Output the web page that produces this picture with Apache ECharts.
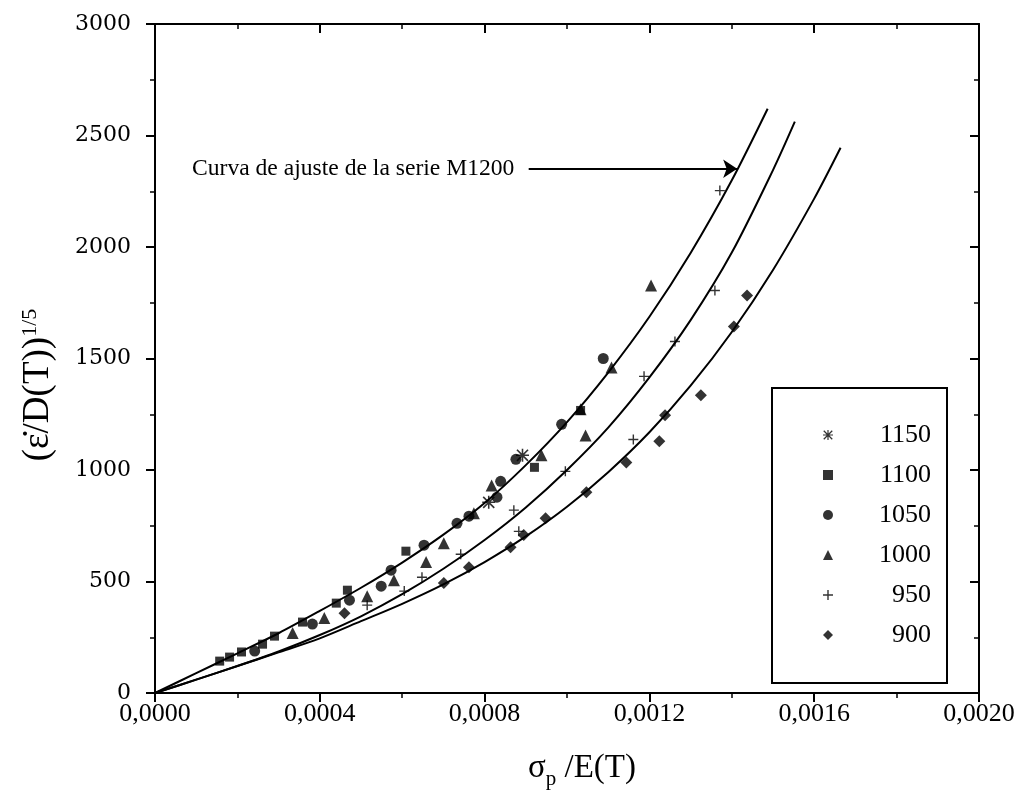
<!DOCTYPE html>
<html><head><meta charset="utf-8">
<script src="https://cdn.jsdelivr.net/npm/echarts@6/dist/echarts.min.js"></script>
<style>html,body{margin:0;padding:0;background:#fff}#c{width:1020px;height:793px}</style>
</head><body><div id="c"></div>
<script>
// ---- data (x = sigma_p/E(T), y = (eps/D(T))^(1/5)) ----
const s1150 = [[0.000892,1066],[0.000810,855]];
const s1100 = [[0.000157,143],[0.000181,161],[0.000210,184],[0.000261,219],[0.000290,255],[0.000358,318],
  [0.000440,403],[0.000467,461],[0.000609,636],[0.000921,1012],[0.001033,1267]];
const s1050 = [[0.000242,188],[0.000382,309],[0.000472,416],[0.000549,479],[0.000573,551],[0.000653,663],
  [0.000733,761],[0.000762,793],[0.000830,878],[0.000839,949],[0.000876,1048],[0.000987,1205],[0.001088,1500]];
const s1000 = [[0.000334,269],[0.000411,336],[0.000515,434],[0.000580,506],[0.000658,587],[0.000701,672],
  [0.000774,806],[0.000817,931],[0.000938,1066],[0.001045,1155],[0.001033,1272],[0.001108,1460],[0.001204,1827]];
const s950 = [[0.000515,394],[0.000605,457],[0.000648,519],[0.000742,622],[0.000871,820],[0.000883,725],
  [0.000996,994],[0.001161,1137],[0.001187,1420],[0.001262,1576],[0.001359,1805],[0.001371,2253]];
const s900 = [[0.000460,358],[0.000701,493],[0.000762,564],[0.000863,654],[0.000895,708],[0.000948,784],
  [0.001047,900],[0.001144,1034],[0.001224,1129],[0.001238,1245],[0.001325,1335],[0.001405,1644],[0.001437,1782]];
// fitted curves at regular steps
const fitA = [[0,0],[0.0001,89],[0.0002,178],[0.0003,268],[0.0004,368],[0.0005,472],[0.0006,585],[0.0007,710],
  [0.0008,852],[0.0009,1022],[0.0010,1215],[0.0011,1437],[0.0012,1687],[0.0013,1973],[0.0014,2299],[0.001487,2620]];
const fitB = [[0,0],[0.0001,60],[0.0002,121],[0.0003,186],[0.0004,260],[0.0005,344],[0.0006,443],[0.0007,557],
  [0.0008,686],[0.0009,832],[0.0010,1000],[0.0011,1190],[0.0012,1415],[0.0013,1672],[0.0014,1975],[0.0015,2345],[0.001553,2562]];
const fitC = [[0,0],[0.0001,60],[0.0002,121],[0.0003,182],[0.0004,245],[0.0005,322],[0.0006,400],[0.0007,487],
  [0.0008,587],[0.0009,702],[0.0010,835],[0.0011,990],[0.0012,1169],[0.0013,1378],[0.0014,1619],[0.0015,1897],[0.0016,2217],[0.001664,2445]];
// axis ticks
const xTickLabels = ['0,0000','0,0004','0,0008','0,0012','0,0016','0,0020'];
const yTickLabels = ['0','500','1000','1500','2000','2500','3000'];
const legendNames = ['1150','1100','1050','1000','950','900'];
const annotationText = 'Curva de ajuste de la serie M1200';
const arrowFrom = [0.000907, 2351];
const arrowTo = [0.001413, 2351];

const FONT = 'Liberation Serif';
const chart = echarts.init(document.getElementById('c'));
const ASTER = 'path://M4.4,0H5.6V10H4.4Z M0,4.4H10V5.6H0Z M1.2,0.3L9.7,8.8L8.8,9.7L0.3,1.2Z M8.8,0.3L9.7,1.2L1.2,9.7L0.3,8.8Z';
const PLUS = 'path://M4.3,0H5.7V10H4.3Z M0,4.3H10V5.7H0Z';

function sc(name, data, symbol, size){
  return {name, type:'scatter', data, symbol, symbolSize:size, itemStyle:{color:'#000'}, z:5, silent:true};
}
function fit(name, data, extra){
  return Object.assign({name, type:'line', data, smooth:0.3, showSymbol:false, symbol:'none',
    lineStyle:{color:'#000', width:2}, itemStyle:{color:'#000'}, z:3, silent:true}, extra||{});
}
const axisLineStyle = {color:'#000', width:2};
function xAx(pos, labels){
  return {type:'value', min:0, max:0.002, interval:0.0004, position:pos,
    axisLine:{show:true, onZero:false, lineStyle:axisLineStyle},
    axisTick:{show:true, inside:pos==='top', length:9, lineStyle:{color:'#000', width:2}},
    minorTick:{show:true, splitNumber:2, length:5, lineStyle:{color:'#000', width:1.5}},
    axisLabel:{show:labels, color:'#000', fontFamily:FONT, fontSize:26, margin:8, showMinLabel:true, showMaxLabel:true,
      formatter:v=>xTickLabels[Math.round(v/0.0004)]},
    splitLine:{show:false}, minorSplitLine:{show:false}};
}
function yAx(pos, labels){
  return {type:'value', min:0, max:3000, interval:500, position:pos,
    axisLine:{show:true, onZero:false, lineStyle:axisLineStyle},
    axisTick:{show:true, inside:pos==='right', length:9, lineStyle:{color:'#000', width:2}},
    minorTick:{show:true, splitNumber:2, length:5, lineStyle:{color:'#000', width:1.5}},
    axisLabel:{show:labels, color:'#000', fontFamily:'DejaVu Serif', fontSize:22, margin:24, showMinLabel:true, showMaxLabel:true,
      formatter:v=>yTickLabels[Math.round(v/500)]},
    splitLine:{show:false}, minorSplitLine:{show:false}};
}

chart.setOption({
  animation:false,
  backgroundColor:'#fff',
  textStyle:{fontFamily:FONT, color:'#000'},
  grid:{left:155, right:41, top:24, bottom:100, containLabel:false},
  xAxis:[xAx('bottom', true), xAx('top', false)],
  yAxis:[yAx('left', true), yAx('right', false)],
  legend:{data:legendNames, orient:'vertical', left:772, top:388, padding:[34,16,35,51],
    itemWidth:10, itemHeight:10, itemGap:14, borderColor:'#000', borderWidth:2, backgroundColor:'#fff',
    selectedMode:false, inactiveColor:'#000',
    formatter:n=>'{t|'+n+'}',
    textStyle:{color:'#000', fontFamily:FONT, fontSize:26, rich:{t:{width:93, height:26, lineHeight:26, align:'right', fontSize:26, fontFamily:FONT, color:'#000'}}}},
  series:[
    fit('fitA', fitA, {markLine:{silent:true, symbol:['none','arrow'], symbolSize:14,
      lineStyle:{color:'#000', width:2, type:'solid'}, label:{show:false},
      data:[[{coord:arrowFrom},{coord:arrowTo}]]}}),
    fit('fitB', fitB),
    fit('fitC', fitC),
    sc('1150', s1150, ASTER, 13),
    sc('1100', s1100, 'rect', 9),
    sc('1050', s1050, 'circle', 11),
    sc('1000', s1000, 'triangle', 12),
    sc('950', s950, PLUS, 10),
    sc('900', s900, 'diamond', 12)
  ],
  graphic:[
    {type:'text', left:192, top:157, z:10, style:{text:annotationText, font:'23.6px "Liberation Serif"', fill:'#000'}},
    {type:'text', x:38, y:385, rotation:Math.PI/2, z:10,
      style:{text:'{b|(\u03B5\u0307/D(T))}{s|1/5}', align:'center', verticalAlign:'middle',
        rich:{b:{fontSize:37, fontFamily:FONT, fill:'#000', lineHeight:38, verticalAlign:'bottom'},
              s:{fontSize:22, fontFamily:FONT, fill:'#000', lineHeight:23, padding:[0,0,19,0], verticalAlign:'top'}}}},
    {type:'text', x:582, y:779, z:10,
      style:{text:'{m|\u03C3}{p|p}{m| /E(T)}', align:'center', verticalAlign:'middle',
        rich:{m:{fontSize:33, fontFamily:FONT, fill:'#000', lineHeight:34, verticalAlign:'top'},
              p:{fontSize:21, fontFamily:FONT, fill:'#000', lineHeight:54}}}}
  ]
});
</script></body></html>
